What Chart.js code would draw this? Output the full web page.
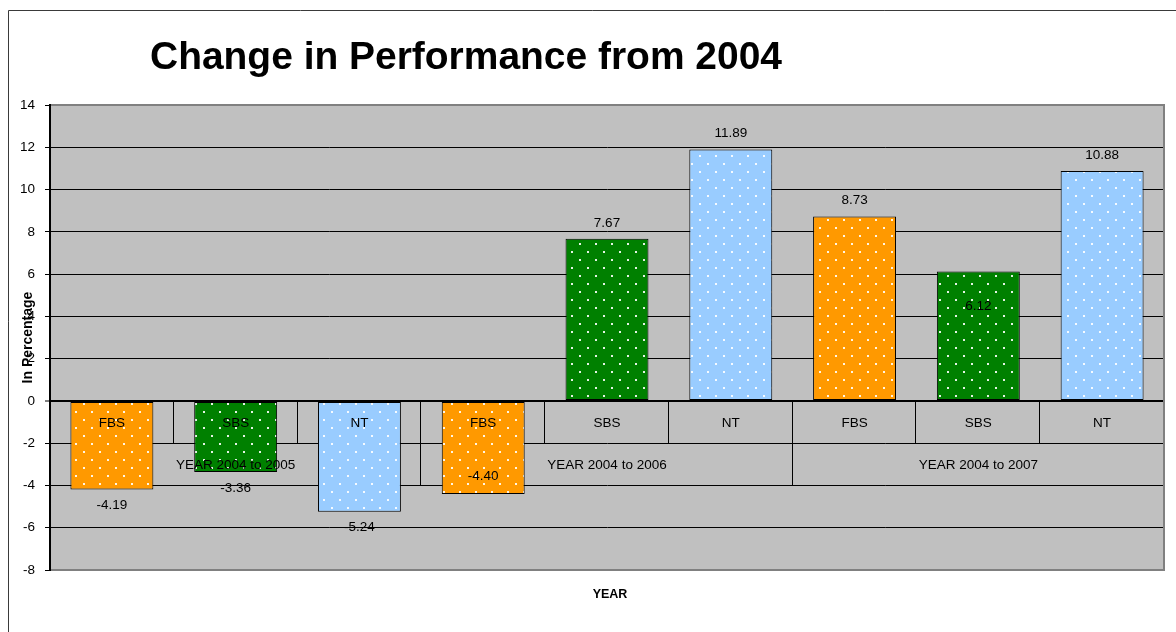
<!DOCTYPE html>
<html>
<head>
<meta charset="utf-8">
<title>Change in Performance from 2004</title>
<script src="https://cdn.jsdelivr.net/npm/chart.js@4.4.1/dist/chart.umd.min.js"></script>
<style>
  html, body { margin: 0; padding: 0; background: #fff; }
  #wrap { width: 1176px; height: 632px; position: relative; }
</style>
</head>
<body>
<div id="wrap"><canvas id="perf"></canvas></div>
<script>
// ── Data ──────────────────────────────────────────────────────
const groups  = ['YEAR 2004 to 2005', 'YEAR 2004 to 2006', 'YEAR 2004 to 2007'];
const series  = ['FBS', 'SBS', 'NT'];
const change  = [-4.19, -3.36, -5.24, -4.40, 7.67, 11.89, 8.73, 6.12, 10.88];
const yTicks  = [-8, -6, -4, -2, 0, 2, 4, 6, 8, 10, 12, 14];

const categories = groups.flatMap(() => series);

// ── Style ─────────────────────────────────────────────────────
const FONT = '"Liberation Sans", Arial, sans-serif';
const SERIES_COLOR = { FBS: '#FF9900', SBS: '#008000', NT: '#99CCFF' };
// a few value labels were dragged off their default spot
const labelNudge = [0, 0, 0, -34, 0, 0, 0, 51, 0];

function dotted(color) {
    const c = document.createElement('canvas');
    c.width = 16; c.height = 16;
    const g = c.getContext('2d');
    g.fillStyle = color;
    g.fillRect(0, 0, 16, 16);
    g.fillStyle = 'rgba(255,255,255,0.9)';
    g.fillRect(3, 3, 2, 2);
    g.fillRect(11, 11, 2, 2);
    return g.createPattern(c, 'repeat');
}
const PATTERNS = {};
series.forEach(s => { PATTERNS[s] = dotted(SERIES_COLOR[s]); });

// ── Plugins ───────────────────────────────────────────────────
const plotFrame = {
    id: 'plotFrame',
    beforeDraw(chart) {
        const { ctx, chartArea: a, width, height } = chart;
        ctx.save();
        ctx.fillStyle = '#fff';
        ctx.fillRect(0, 0, width, height);
        ctx.strokeStyle = '#3a3a3a';
        ctx.lineWidth = 1;
        ctx.beginPath();
        ctx.moveTo(8.5, height);
        ctx.lineTo(8.5, 10.5);
        ctx.lineTo(width, 10.5);
        ctx.stroke();
        ctx.fillStyle = '#C0C0C0';
        ctx.fillRect(a.left, a.top, a.right - a.left, a.bottom - a.top);
        ctx.restore();
    },
    afterDraw(chart) {
        const { ctx, chartArea: a } = chart;
        ctx.save();
        ctx.strokeStyle = '#808080';
        ctx.lineWidth = 2;
        ctx.beginPath();
        ctx.moveTo(a.left + 1, a.top);
        ctx.lineTo(a.right, a.top);
        ctx.lineTo(a.right, a.bottom);
        ctx.lineTo(a.left + 1, a.bottom);
        ctx.stroke();

        // titles
        ctx.fillStyle = '#000';
        ctx.textBaseline = 'alphabetic';
        ctx.textAlign = 'left';
        ctx.font = `bold 39px ${FONT}`;
        ctx.fillText('Change in Performance from 2004', 150, 69, 632);

        ctx.textAlign = 'center';
        ctx.textBaseline = 'middle';
        ctx.font = `bold 12.5px ${FONT}`;
        ctx.fillText('YEAR', (a.left + a.right) / 2 + 3, 595);

        ctx.translate(28, (a.top + a.bottom) / 2);
        ctx.rotate(-Math.PI / 2);
        ctx.font = `bold 14px ${FONT}`;
        ctx.fillText('In Percentage', 0, 0);
        ctx.restore();
    },
};

// two-row category axis drawn where the value axis crosses zero
const categoryTable = {
    id: 'categoryTable',
    beforeDatasetsDraw(chart) {
        const { ctx, chartArea: a, scales: { y } } = chart;
        const y0 = y.getPixelForValue(0);
        const y1 = y.getPixelForValue(-2);
        const y2 = y.getPixelForValue(-4);
        const step = (a.right - a.left) / categories.length;
        ctx.save();
        ctx.strokeStyle = '#000';
        ctx.lineWidth = 1;
        for (let k = 1; k <= categories.length; k++) {
            const px = Math.round(a.left + k * step) - 0.5;
            const bottom = k % series.length === 0 ? y2 : y1;
            ctx.beginPath();
            ctx.moveTo(px, y0);
            ctx.lineTo(px, bottom);
            ctx.stroke();
        }
        ctx.restore();
    },
    afterDatasetsDraw(chart) {
        const { ctx, scales: { x, y } } = chart;
        const y0 = y.getPixelForValue(0);
        const y1 = y.getPixelForValue(-2);
        const y2 = y.getPixelForValue(-4);
        ctx.save();
        ctx.fillStyle = '#000';
        ctx.textAlign = 'center';
        ctx.textBaseline = 'middle';
        ctx.font = `13.5px ${FONT}`;

        // value labels
        const bars = chart.getDatasetMeta(0).data;
        bars.forEach((bar, i) => {
            const v = change[i];
            const ly = (v >= 0 ? bar.y - 16 : bar.y + 16) + labelNudge[i];
            ctx.fillText(v.toFixed(2), bar.x, ly);
        });

        // series row + group row
        categories.forEach((c, i) => {
            ctx.fillText(c, x.getPixelForValue(i), (y0 + y1) / 2 + 1);
        });
        groups.forEach((g, gi) => {
            const first = x.getPixelForValue(gi * series.length);
            const last = x.getPixelForValue(gi * series.length + series.length - 1);
            ctx.fillText(g, (first + last) / 2, (y1 + y2) / 2 + 1);
        });
        ctx.restore();
    },
};

// ── Chart ─────────────────────────────────────────────────────
new Chart(document.getElementById('perf'), {
    type: 'bar',
    data: {
        labels: categories,
        datasets: [{
            data: change,
            backgroundColor: categories.map(c => PATTERNS[c]),
            borderColor: '#000',
            borderWidth: 1,
            borderSkipped: false,
            barPercentage: 0.67,
            categoryPercentage: 1,
        }],
    },
    options: {
        responsive: true,
        maintainAspectRatio: false,
        animation: false,
        devicePixelRatio: 1,
        layout: { padding: { left: 8, top: 105, right: 12, bottom: 62 } },
        plugins: {
            legend: { display: false },
            tooltip: { enabled: false },
            title: { display: false },
        },
        scales: {
            x: { display: false },
            y: {
                min: -8,
                max: 14,
                afterBuildTicks: s => { s.ticks = yTicks.map(v => ({ value: v })); },
                afterFit: s => { s.width = 42; },
                ticks: {
                    color: '#000',
                    padding: 10,
                    font: { family: FONT, size: 13.5 },
                },
                grid: {
                    color: c => (c.tick && (c.tick.value === 14 || c.tick.value === -8)) ? '#808080' : '#000',
                    tickColor: '#000',
                    lineWidth: c => (c.tick && c.tick.value === 0) ? 2 : 1,
                    tickWidth: 1,
                    tickLength: 5,
                },
                border: { display: true, color: '#000', width: 2 },
            },
        },
    },
    plugins: [plotFrame, categoryTable],
});
</script>
</body>
</html>
